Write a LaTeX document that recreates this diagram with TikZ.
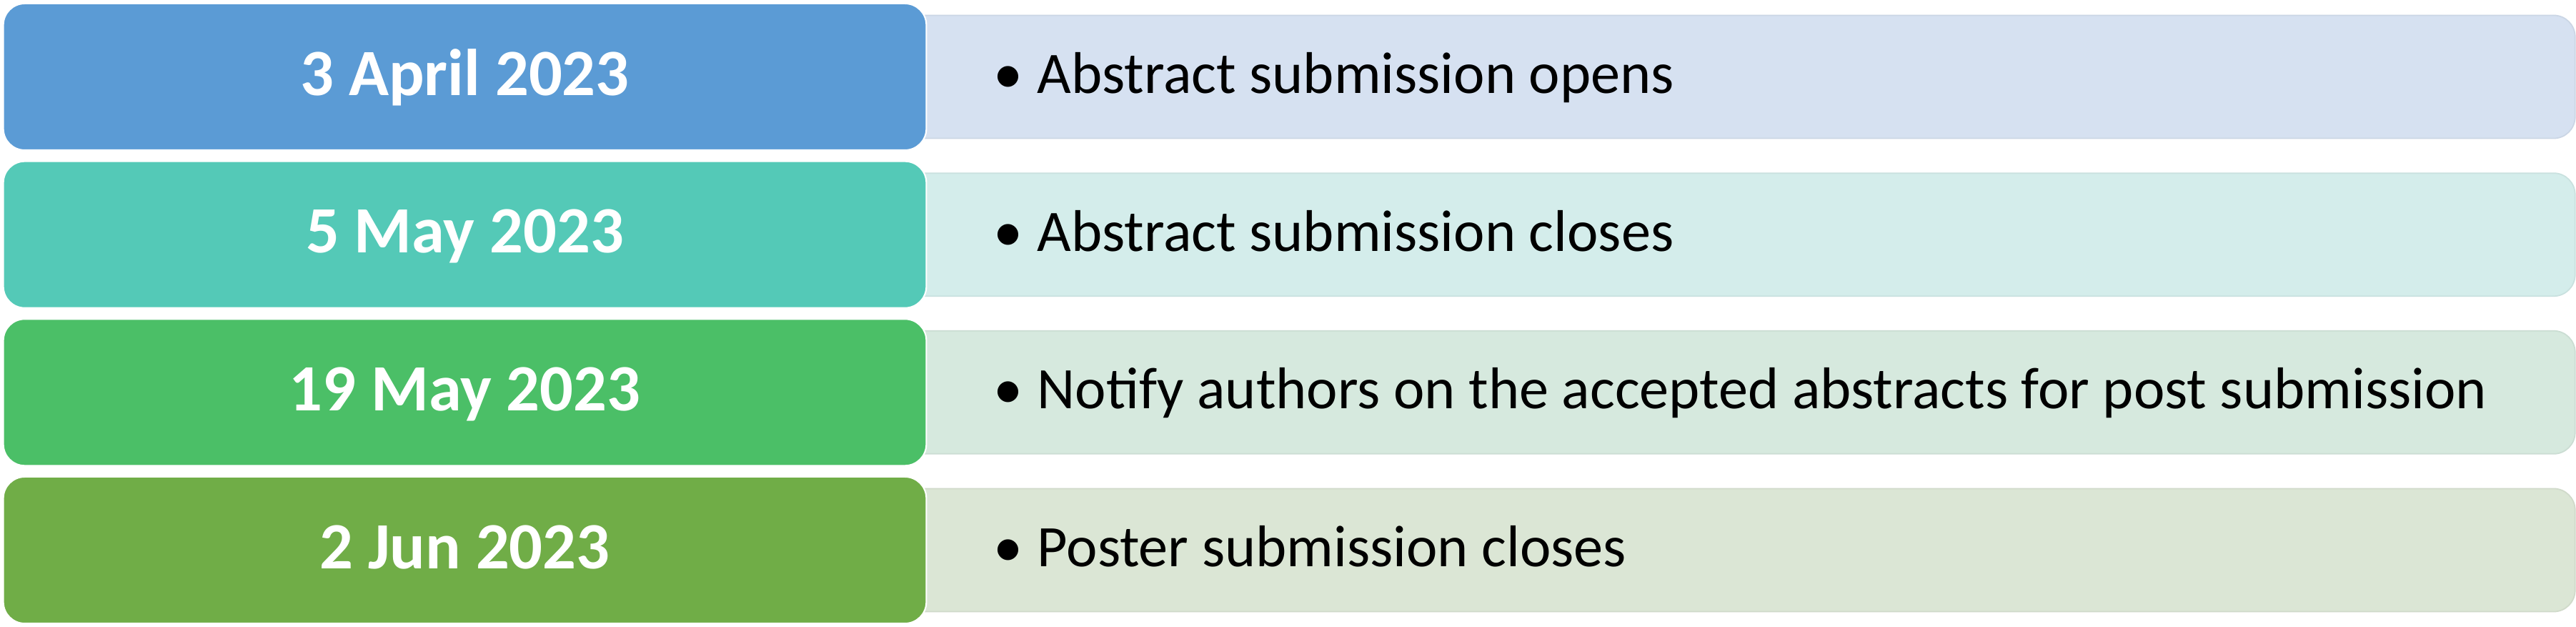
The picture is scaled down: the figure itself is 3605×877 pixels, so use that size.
\documentclass[tikz,border=0pt]{standalone}
\usepackage{fontspec}
\setmainfont{Carlito}
\definecolor{c1}{HTML}{5B9BD5}
\definecolor{c2}{HTML}{54C9B7}
\definecolor{c3}{HTML}{4BBF67}
\definecolor{c4}{HTML}{70AD47}
\definecolor{l1}{HTML}{D6E1F1}
\definecolor{l2}{HTML}{D4EDEB}
\definecolor{l3}{HTML}{D6E9DE}
\definecolor{l4}{HTML}{DBE6D5}
\begin{document}
\begin{tikzpicture}[x=0.01cm,y=-0.01cm,
 datebox/.style={rounded corners=0.3cm, minimum width=12.91cm, minimum height=2.05cm, inner sep=0pt, draw=white, line width=0.6pt, font=\fontsize{26.3}{30}\selectfont\bfseries, text=white, text height=0.51cm, text depth=0cm},
 infobox/.style={rounded corners=0.3cm, minimum width=24.03cm, minimum height=1.72cm, inner sep=0pt, line width=0.5pt},
 infotext/.style={anchor=base west, font=\fontsize{23.4}{27}\selectfont, inner sep=0pt, text=black}]
\useasboundingbox[fill=white] (0,0) rectangle (3605,877);
% right (info) boxes, drawn first so the date boxes cover their left ends
\node[infobox, fill=l1, draw=l1!95!black] (i1) at (2401.5,107.5) {};
\node[infobox, fill=l2, draw=l2!95!black] (i2) at (2401.5,328.2) {};
\node[infobox, fill=l3, draw=l3!95!black] (i3) at (2401.5,548.8) {};
\node[infobox, fill=l4, draw=l4!95!black] (i4) at (2401.5,769.5) {};
% date boxes
\node[datebox, fill=c1] (d1) at (650.5,107.5) {3 April 2023};
\node[datebox, fill=c2] (d2) at (650.5,328.2) {5 May 2023};
\node[datebox, fill=c3] (d3) at (650.5,548.8) {19 May 2023};
\node[datebox, fill=c4] (d4) at (650.5,769.5) {2 Jun 2023};
% texts
\node[infotext] (t1) at (1390,130.5) {\makebox[0.61cm][l]{•}Abstract submission opens};
\node[infotext] (t2) at (1390,351.2) {\makebox[0.61cm][l]{•}Abstract submission closes};
\node[infotext] (t3) at (1390,571.8) {\makebox[0.61cm][l]{•}Notify authors on the accepted abstracts for post submission};
\node[infotext] (t4) at (1390,792.5) {\makebox[0.61cm][l]{•}Poster submission closes};
\end{tikzpicture}
\end{document}
